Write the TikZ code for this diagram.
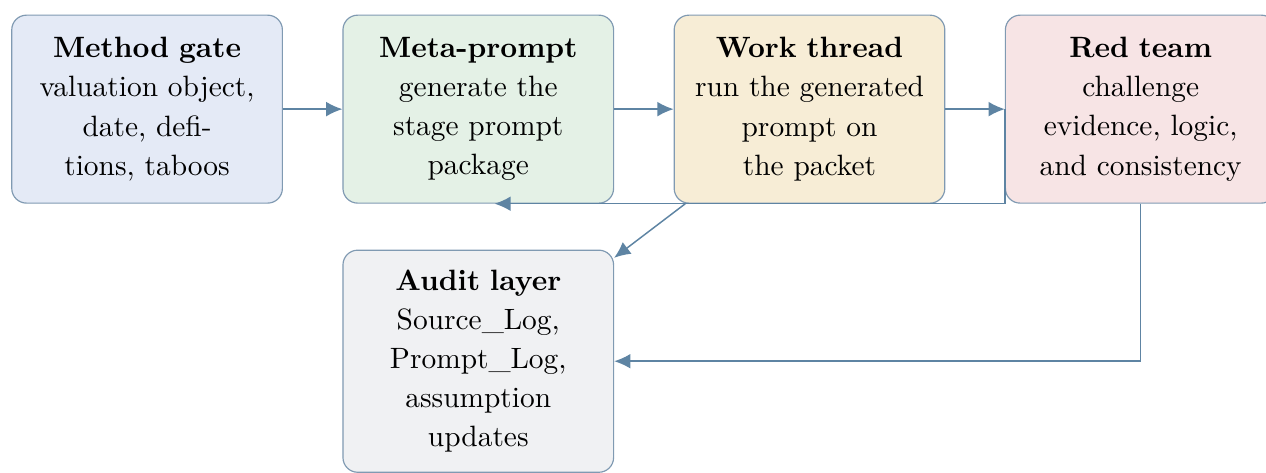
\documentclass[tikz,border=0pt]{standalone}
\usepackage{tikz}
\usetikzlibrary{arrows.meta,positioning}

\definecolor{edgeblue}{RGB}{94,132,163}
\definecolor{rimgrey}{RGB}{128,154,178}
\definecolor{gatefill}{RGB}{228,234,246}
\definecolor{metafill}{RGB}{228,241,230}
\definecolor{workfill}{RGB}{247,237,214}
\definecolor{redfill}{RGB}{247,228,229}
\definecolor{auditfill}{RGB}{240,241,243}

\begin{document}
\begin{tikzpicture}[auto, node distance=20.2pt, >={Latex[length=5.5pt,width=5pt]},
    font=\fontsize{10}{13.3}\selectfont]
    \tikzstyle{block} = [draw=rimgrey, line width=0.4pt, rectangle, rounded corners=5pt,
      text width=88pt, align=center, minimum width=91.8pt, minimum height=63.9pt, inner sep=2pt];
    \tikzstyle{link} = [->, draw=edgeblue, line width=0.5pt];
    \useasboundingbox (0,0) rectangle (430.4pt,-160.8pt);
    \node [block, fill=gatefill] (gate) at (50pt,-37.1pt)
      {\textbf{Method gate}\\ valuation object,\\ date, defi-\\ tions, taboos};
    \node [block, fill=metafill, right=of gate] (meta)
      {\textbf{Meta-prompt}\\ generate the\\ stage prompt\\ package};
    \node [block, fill=workfill, right=of meta] (work)
      {\textbf{Work thread}\\ run the generated\\ prompt on\\ the packet};
    \node [block, fill=redfill, right=of work] (red)
      {\textbf{Red team}\\ challenge\\ evidence, logic,\\ and consistency};
    \node [block, fill=auditfill, below=15.6pt of meta, minimum height=75.5pt] (audit)
      {\textbf{Audit layer}\\ Source\_Log,\\ Prompt\_Log,\\ assumption\\ updates};
    \draw [link] (gate) -- (meta);
    \draw [link] (meta) -- (work);
    \draw [link] (work) -- (red);
    \draw [link] (red.west) |- ([xshift=5.5pt]meta.south);
    \draw [link] (work) -- (audit);
    \draw [link] (red.south) |- (audit.east);
\end{tikzpicture}
\end{document}
